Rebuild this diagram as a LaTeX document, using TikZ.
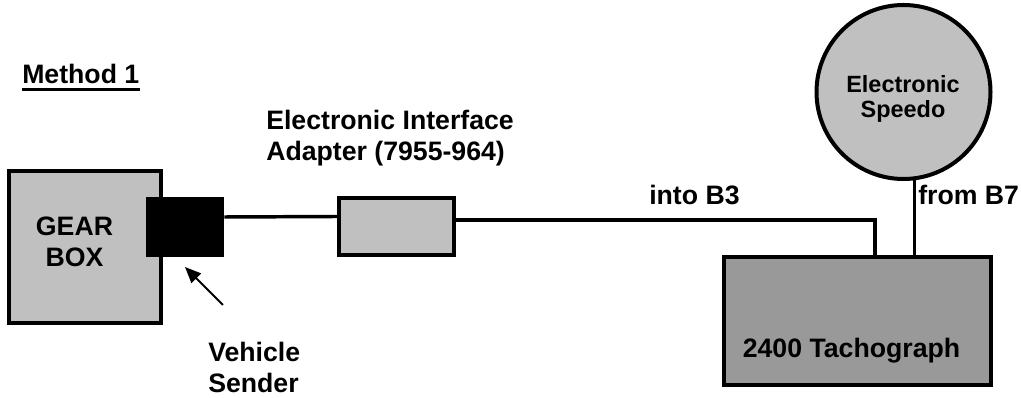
\documentclass[tikz,border=0pt]{standalone}
\usepackage{fontspec}
\setmainfont{Liberation Sans}
\usetikzlibrary{arrows.meta}
\definecolor{boxgrey}{RGB}{192,192,192}
\definecolor{tachgrey}{RGB}{153,153,153}
\tikzset{
  unitbox/.style={rectangle, draw=black, fill=boxgrey, line width=3pt, inner sep=0pt},
  senderbox/.style={rectangle, fill=black, inner sep=0pt, minimum width=58.5pt, minimum height=45pt},
  tachbox/.style={rectangle, draw=black, fill=tachgrey, line width=3pt, inner sep=0pt, minimum width=200.25pt, minimum height=96pt},
  speedodial/.style={circle, draw=black, fill=boxgrey, line width=3pt, inner sep=0pt, minimum size=130.5pt},
  wire/.style={line width=2.6pt, draw=black},
  pointer/.style={-{Triangle[length=12pt, width=10pt]}, line width=1.5pt},
  lbl/.style={font=\fontsize{20}{23.25}\selectfont\bfseries, inner sep=0pt},
  smalllbl/.style={font=\fontsize{17.6}{18.75}\selectfont\bfseries, inner sep=0pt}
}
\begin{document}
\begin{tikzpicture}[x=0.75pt, y=-0.75pt]
  \useasboundingbox (0,0) rectangle (1021,398);

  \node[lbl, anchor=base west] (method) at (22,84) {Method 1};
  \draw[line width=1.9pt] ([yshift=-4.1pt]method.base west) -- ([yshift=-4.1pt]method.base east);

  % units
  \node[unitbox, minimum width=114pt, minimum height=114pt] (gearbox) at (85,247) {};
  \node[senderbox] (sender) at (185,227) {};
  \node[unitbox, minimum width=86.25pt, minimum height=42.75pt] (adapter) at (396.5,226.5) {};
  \node[tachbox] (tach) at (857.5,321) {};
  \node[speedodial] (speedo) at (903.5,92) {};

  % labels
  \node[lbl, align=center] (gearlbl) at (74.5,242) {GEAR\\BOX};
  \node[lbl, align=left, anchor=north west] (adapterlbl) at (266,110) {Electronic Interface\\Adapter (7955-964)};
  \node[lbl, align=left, anchor=north west] (senderlbl) at (208,342) {Vehicle\\Sender};
  \node[lbl, anchor=base west] (intob3) at (649,205) {into B3};
  \node[lbl, anchor=base west] (fromb7) at (918,205) {from B7};
  \node[lbl, anchor=base] (tachlbl) at (851.5,358) {2400 Tachograph};
  \node[smalllbl, align=center] (speedolbl) at (903,98.5) {Electronic\\Speedo};

  % wiring
  \draw[wire] ([yshift=7.5pt]sender.east) -- ([yshift=7.5pt]adapter.west);
  \draw[wire] ([yshift=4.9pt]adapter.east) -| ([xshift=13pt]tach.north);
  \draw[wire] (speedo.-83) -- (speedo.-83 |- tach.north);

  \coordinate (tailpt) at (223,305);
  \coordinate (tippt) at (185,267);
  \draw[pointer] (tailpt) -- (tippt);
\end{tikzpicture}
\end{document}
